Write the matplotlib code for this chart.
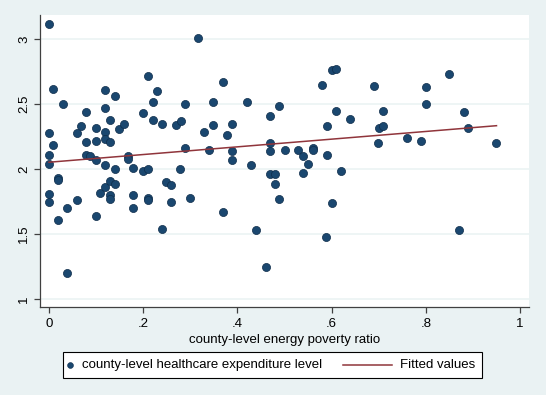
import numpy as np
import matplotlib
matplotlib.use("Agg")
import matplotlib.pyplot as plt
from matplotlib.patches import Rectangle
from matplotlib.lines import Line2D

plt.rcParams['font.family'] = ['Liberation Sans', 'DejaVu Sans']

# county-level energy poverty ratio
energy_poverty = [
    0.000, 0.317, 0.210, 0.009, 0.119, 0.230, 0.140, 0.029, 0.220, 0.289,
    0.119, 0.079, 0.200, 0.130, 0.220, 0.069, 0.099, 0.149, 0.159, 0.240,
    0.270, 0.280, 0.000, 0.059, 0.119, 0.009, 0.079, 0.099, 0.119, 0.130,
    0.000, 0.079, 0.088, 0.099, 0.168, 0.168, 0.289, 0.000, 0.119, 0.179,
    0.140, 0.199, 0.210, 0.279, 0.000, 0.000, 0.020, 0.020, 0.039, 0.059,
    0.020, 0.099, 0.039, 0.109, 0.119, 0.130, 0.140, 0.130, 0.130, 0.179,
    0.179, 0.210, 0.210, 0.249, 0.260, 0.260, 0.299, 0.240, 0.369, 0.349,
    0.420, 0.489, 0.469, 0.329, 0.349, 0.389, 0.379, 0.340, 0.389, 0.389,
    0.429, 0.469, 0.469, 0.500, 0.529, 0.540, 0.549, 0.560, 0.560, 0.590,
    0.620, 0.580, 0.600, 0.609, 0.610, 0.640, 0.590, 0.689, 0.700, 0.710,
    0.698, 0.709, 0.760, 0.790, 0.800, 0.800, 0.849, 0.880, 0.890, 0.950,
    0.469, 0.480, 0.480, 0.539, 0.489, 0.600, 0.369, 0.440, 0.589, 0.460,
    0.870,
]
# county-level healthcare expenditure level
healthcare = [
    3.12, 3.01, 2.72, 2.62, 2.61, 2.60, 2.56, 2.50, 2.52, 2.50,
    2.47, 2.44, 2.43, 2.38, 2.38, 2.33, 2.32, 2.31, 2.35, 2.35,
    2.34, 2.37, 2.28, 2.28, 2.29, 2.19, 2.21, 2.22, 2.23, 2.21,
    2.11, 2.11, 2.10, 2.07, 2.10, 2.08, 2.16, 2.04, 2.03, 2.01,
    2.00, 1.99, 2.00, 2.00, 1.81, 1.75, 1.93, 1.92, 1.70, 1.76,
    1.61, 1.64, 1.20, 1.82, 1.86, 1.91, 1.89, 1.80, 1.77, 1.80,
    1.70, 1.78, 1.76, 1.90, 1.88, 1.75, 1.78, 1.54, 2.67, 2.52,
    2.52, 2.49, 2.41, 2.29, 2.34, 2.35, 2.26, 2.15, 2.14, 2.07,
    2.03, 2.20, 2.14, 2.15, 2.15, 2.10, 2.04, 2.16, 2.15, 2.11,
    1.99, 2.65, 2.76, 2.77, 2.45, 2.39, 2.33, 2.64, 2.32, 2.33,
    2.20, 2.45, 2.24, 2.22, 2.63, 2.50, 2.73, 2.44, 2.32, 2.20,
    1.96, 1.96, 1.89, 1.97, 1.77, 1.74, 1.67, 1.53, 1.48, 1.25,
    1.53,
]

# fitted line (intercept at x=0, slope)
fit_intercept = 2.054
fit_slope = 0.296

x_ticks = [0, 0.2, 0.4, 0.6, 0.8, 1.0]
x_ticklabels = ["0", ".2", ".4", ".6", ".8", "1"]
y_ticks = [1, 1.5, 2, 2.5, 3]
y_ticklabels = ["1", "1.5", "2", "2.5", "3"]

scatter_label = 'county-level healthcare expenditure level'
fit_label = 'Fitted values'

x = np.array(energy_poverty)
y = np.array(healthcare)
xs = np.array([x.min(), x.max()])
fitted = fit_intercept + fit_slope * xs

W, H = 546, 395
bg = '#EAF2F3'
navy = '#1A476F'
navy_edge = '#0E2C4A'
maroon = '#90353B'

fig = plt.figure(figsize=(W/100, H/100), dpi=100, facecolor=bg)
ax = fig.add_axes([40/W, 1-307/H, (529-40)/W, (307-15)/H])
ax.set_facecolor('white')

for v in y_ticks:
    ax.axhline(v, color='#EAF2F3', lw=1.1, zorder=0)

ax.scatter(x, y, s=34, color=navy, edgecolors=navy_edge, linewidths=0.5, zorder=3)
ax.plot(xs, fitted, color=maroon, lw=1.1, zorder=4)

ax.set_xlim(-0.019, 1.019)
ax.set_ylim(0.94, 3.187)
ax.set_xticks(x_ticks)
ax.set_xticklabels(x_ticklabels)
ax.set_yticks(y_ticks)
ax.set_yticklabels(y_ticklabels, rotation=90, va='center')

for s in ['top', 'right']:
    ax.spines[s].set_visible(False)
for s in ['left', 'bottom']:
    ax.spines[s].set_color('#404040')
    ax.spines[s].set_linewidth(0.9)
ax.tick_params(axis='both', direction='out', length=4, width=0.9, color='#404040',
               labelsize=9.5, labelcolor='black')
ax.tick_params(axis='x', pad=4)
ax.tick_params(axis='y', pad=3)

ax.set_xlabel('county-level energy poverty ratio', fontsize=9.5, labelpad=3)

# legend box drawn in figure pixel coordinates
def fx(px):
    return px / W

def fy(py):
    return 1 - py / H

fig.add_artist(Rectangle((fx(63), fy(378)), fx(482) - fx(63), fy(352) - fy(378),
                         transform=fig.transFigure, facecolor='white',
                         edgecolor='black', linewidth=0.8))
fig.add_artist(Line2D([fx(70)], [fy(365)], transform=fig.transFigure,
                      marker='o', markersize=4.2, color=navy,
                      markeredgecolor=navy_edge, markeredgewidth=0.4, linestyle='none'))
fig.text(fx(82), fy(365), scatter_label, fontsize=9.5, va='center', ha='left')
fig.add_artist(Line2D([fx(343), fx(392)], [fy(365), fy(365)], transform=fig.transFigure,
                      color=maroon, lw=1.1))
fig.text(fx(400), fy(365), fit_label, fontsize=9.5, va='center', ha='left')

fig.savefig('out.png', dpi=100, facecolor=bg)
